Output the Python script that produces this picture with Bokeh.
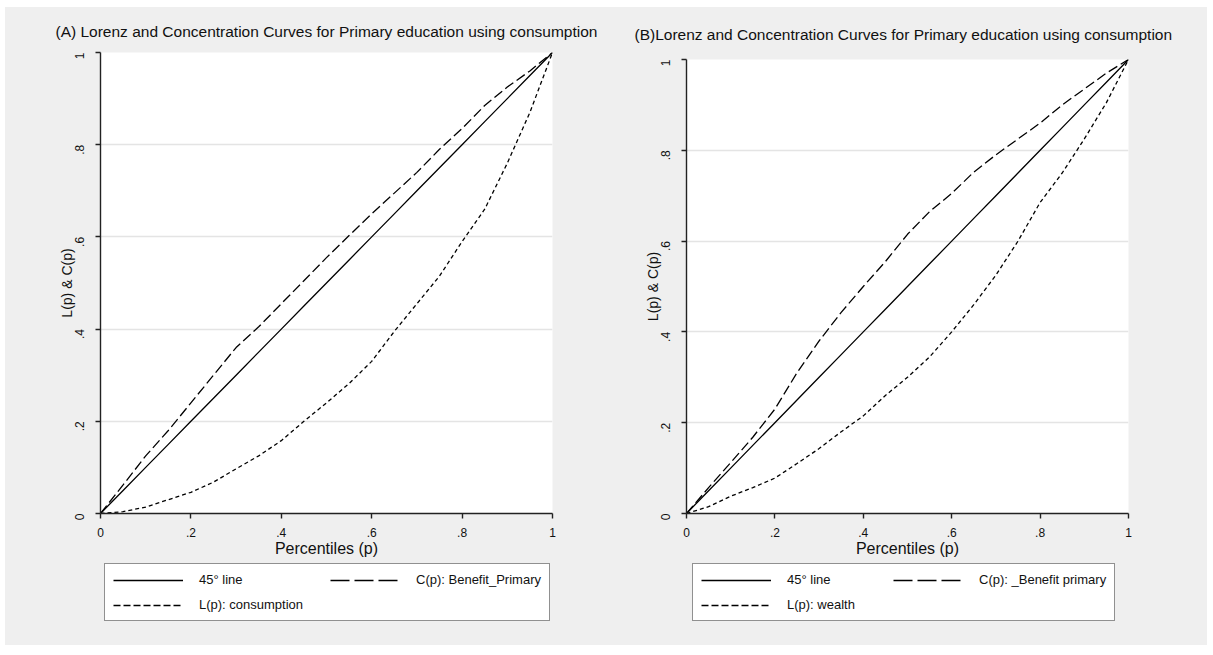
import math
from bokeh.plotting import figure
from bokeh.layouts import row, column
from bokeh.models import Legend, LegendItem, FixedTicker, Title, Range1d
from bokeh.embed import file_html
from bokeh.resources import INLINE

# ---- data ----
p_vals = [0.0, 0.05, 0.10, 0.15, 0.20, 0.25, 0.30, 0.35, 0.40, 0.45, 0.50,
          0.55, 0.60, 0.65, 0.70, 0.75, 0.80, 0.85, 0.90, 0.95, 1.0]
line45 = [0.0, 0.05, 0.10, 0.15, 0.20, 0.25, 0.30, 0.35, 0.40, 0.45, 0.50,
          0.55, 0.60, 0.65, 0.70, 0.75, 0.80, 0.85, 0.90, 0.95, 1.0]

# Panel A
c_primary_a = [0.0, 0.062, 0.125, 0.18, 0.24, 0.30, 0.36, 0.405, 0.455, 0.505, 0.555,
               0.603, 0.65, 0.695, 0.74, 0.79, 0.835, 0.885, 0.925, 0.96, 1.0]
l_consumption_a = [0.0, 0.004, 0.014, 0.03, 0.046, 0.068, 0.097, 0.125, 0.158, 0.20, 0.24,
                   0.282, 0.33, 0.395, 0.455, 0.515, 0.59, 0.66, 0.76, 0.87, 1.0]
# Panel B
c_primary_b = [0.0, 0.057, 0.112, 0.168, 0.23, 0.31, 0.38, 0.443, 0.50, 0.555, 0.615,
               0.665, 0.705, 0.752, 0.79, 0.825, 0.86, 0.90, 0.935, 0.97, 1.0]
l_wealth_b = [0.0, 0.015, 0.038, 0.057, 0.078, 0.11, 0.143, 0.18, 0.215, 0.26, 0.30,
              0.345, 0.40, 0.46, 0.525, 0.60, 0.685, 0.75, 0.825, 0.905, 1.0]

tick_vals = [0, 0.2, 0.4, 0.6, 0.8, 1]
tick_labels = ["0", ".2", ".4", ".6", ".8", "1"]
grid_vals = [0.2, 0.4, 0.6, 0.8]

title_a = "(A) Lorenz and Concentration Curves for Primary education using consumption"
title_b = "(B)Lorenz and Concentration Curves for Primary education using consumption"
legend_a = ["45° line", "C(p): Benefit_Primary", "L(p): consumption"]
legend_b = ["45° line", "C(p): _Benefit primary", "L(p): wealth"]

FONT = "Liberation Sans"
BG = "#efefef"
SOLID = dict(line_color="black", line_width=1.3)
LONGDASH = dict(line_color="black", line_width=1.3, line_dash="10 4")
SHORTDASH = dict(line_color="black", line_width=1.3, line_dash="4 3")
KEY_LONGDASH = dict(line_color="black", line_width=1.3, line_dash="19 5")
KEY_SHORTDASH = dict(line_color="black", line_width=1.3, line_dash="7 3")
NAN = float("nan")


def make_panel(title, cvals, lvals, frame_w, frame_h, b_left, b_right,
               b_top, b_bottom, title_offset, title_standoff):
    p = figure(frame_width=frame_w, frame_height=frame_h,
               x_range=Range1d(0, 1), y_range=Range1d(0, 1),
               output_backend="svg", toolbar_location=None,
               min_border_left=b_left, min_border_right=b_right,
               min_border_top=b_top, min_border_bottom=b_bottom)
    p.background_fill_color = "white"
    p.border_fill_color = BG
    p.outline_line_color = None

    t = Title(text=title, align="left", offset=title_offset, standoff=title_standoff,
              text_font=FONT, text_font_size="15.5px", text_font_style="normal",
              text_color="#111111")
    p.add_layout(t, "above")

    for ax in (p.xaxis[0], p.yaxis[0]):
        ax.ticker = FixedTicker(ticks=tick_vals)
        ax.major_label_overrides = {v: s for v, s in zip(tick_vals, tick_labels)}
        ax.axis_line_color = "#222222"
        ax.axis_line_width = 1.4
        ax.major_tick_line_color = "#222222"
        ax.major_tick_line_width = 1.4
        ax.major_tick_out = 5
        ax.major_tick_in = 0
        ax.minor_tick_out = 0
        ax.minor_tick_in = 0
        ax.major_label_text_font = FONT
        ax.major_label_text_font_size = "12px"
        ax.major_label_text_color = "#111111"
        ax.axis_label_text_font = FONT
        ax.axis_label_text_font_style = "normal"
        ax.axis_label_text_color = "#111111"

    p.xaxis.axis_label = "Percentiles (p)"
    p.xaxis.axis_label_text_font_size = "16px"
    p.xaxis.axis_label_standoff = 0
    p.xaxis.major_label_standoff = 9

    p.yaxis.axis_label = "L(p) & C(p)"
    p.yaxis.axis_label_text_font_size = "14px"
    p.yaxis.axis_label_standoff = -7
    p.yaxis.major_label_standoff = 16
    p.yaxis.major_label_orientation = math.pi / 2

    p.xgrid.visible = False
    p.ygrid.ticker = FixedTicker(ticks=grid_vals)
    p.ygrid.grid_line_color = "#e4e4e4"
    p.ygrid.grid_line_width = 1.5

    p.line(p_vals, line45, **SOLID)
    p.line(p_vals, cvals, **LONGDASH)
    p.line(p_vals, lvals, **SHORTDASH)
    return p


def make_legend_fig(labels, frame_w, b_left, b_right, height, leg_x, leg_y, label_w):
    q = figure(frame_width=frame_w, frame_height=height,
               x_range=Range1d(0, 1), y_range=Range1d(0, 1),
               x_axis_type=None, y_axis_type=None,
               output_backend="svg", toolbar_location=None,
               min_border_left=b_left, min_border_right=b_right,
               min_border_top=0, min_border_bottom=0)
    q.background_fill_color = BG
    q.border_fill_color = BG
    q.outline_line_color = None
    q.xgrid.visible = False
    q.ygrid.visible = False
    # legend key samples only (a single undefined point draws nothing in the frame)
    r1 = q.line([NAN], [NAN], **SOLID)
    r2 = q.line([NAN], [NAN], **KEY_LONGDASH)
    r3 = q.line([NAN], [NAN], **KEY_SHORTDASH)
    leg = Legend(items=[LegendItem(label=labels[0], renderers=[r1]),
                        LegendItem(label=labels[1], renderers=[r2]),
                        LegendItem(label=labels[2], renderers=[r3])],
                 orientation="horizontal", ncols=2,
                 location=(leg_x, leg_y), margin=0,
                 glyph_width=70, glyph_height=14, label_standoff=16,
                 label_width=label_w,
                 spacing=10, padding=8,
                 label_text_font=FONT, label_text_font_size="13px",
                 label_text_color="#111111",
                 border_line_color="#222222", border_line_width=1.2,
                 background_fill_color="white", background_fill_alpha=1.0)
    q.add_layout(leg, "center")
    return q


pa = make_panel(title_a, c_primary_a, l_consumption_a,
                frame_w=452, frame_h=461, b_left=95, b_right=56,
                b_top=45, b_bottom=50, title_offset=-45, title_standoff=25)
pb = make_panel(title_b, c_primary_b, l_wealth_b,
                frame_w=442, frame_h=454, b_left=78, b_right=79,
                b_top=52, b_bottom=50, title_offset=-52, title_standoff=33)

la = make_legend_fig(legend_a, frame_w=452, b_left=95, b_right=56, height=82,
                     leg_x=4, leg_y=24, label_w=121)
lb = make_legend_fig(legend_b, frame_w=442, b_left=78, b_right=79, height=82,
                     leg_x=6, leg_y=24, label_w=96)

layout = row(column(pa, la, styles={"background-color": BG}),
             column(pb, lb, styles={"background-color": BG}),
             margin=(7, 0, 0, 5), styles={"background-color": BG})
open("out.html", "w").write(file_html(layout, INLINE))
